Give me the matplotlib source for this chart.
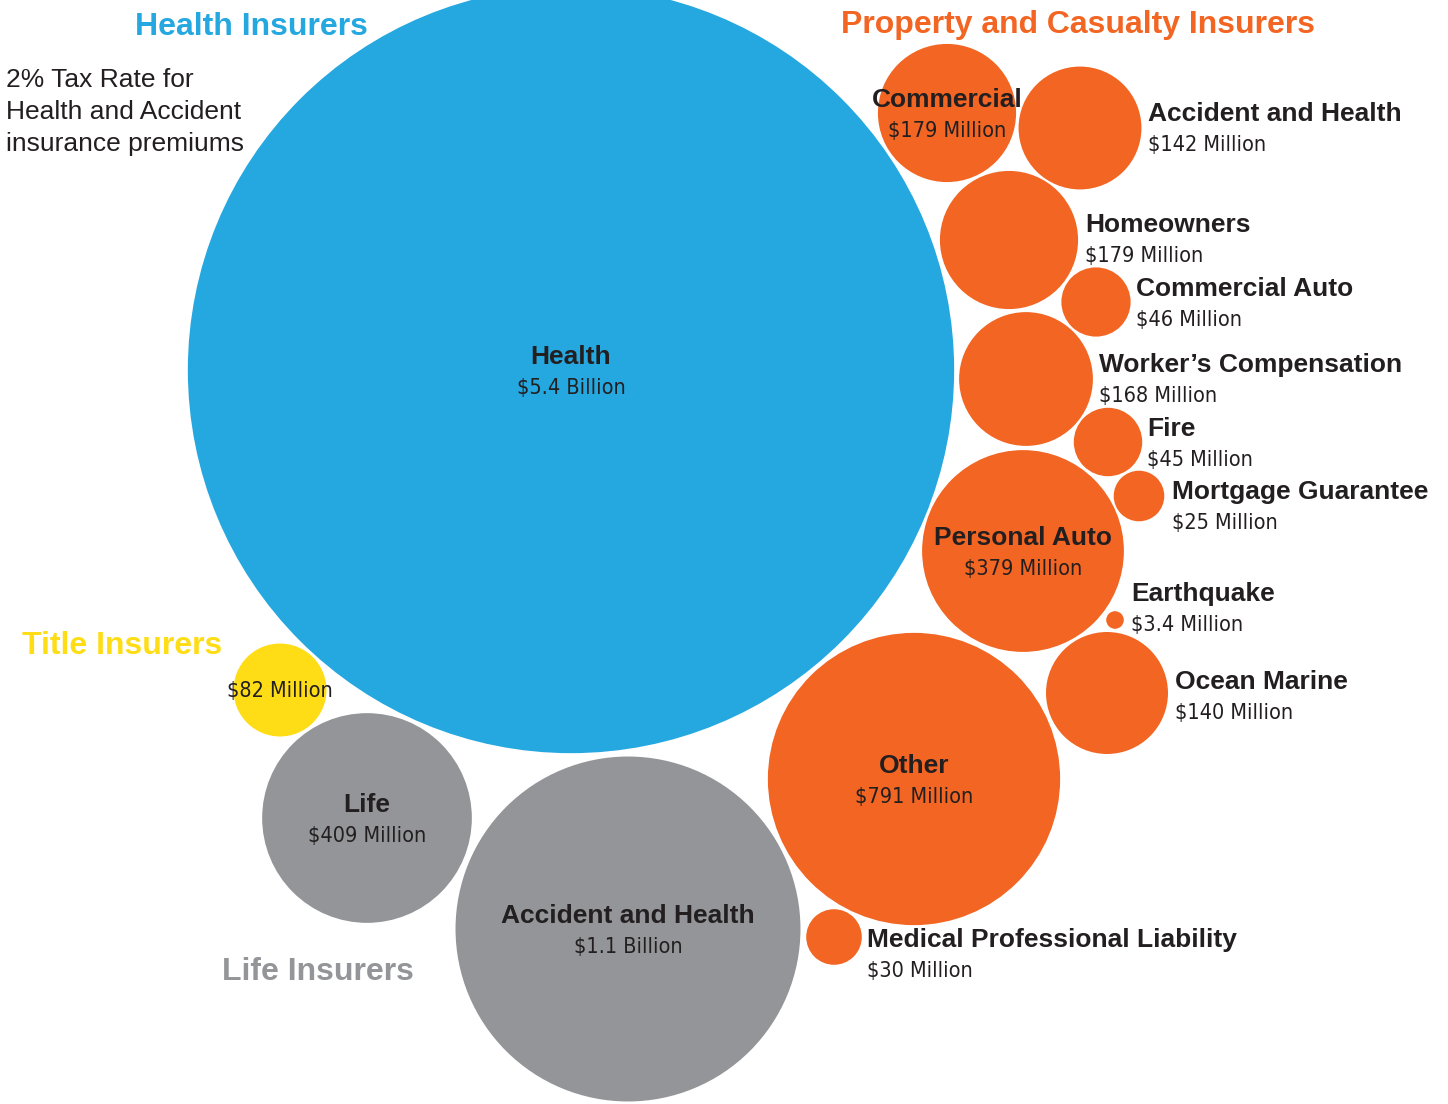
import numpy as np
import matplotlib.pyplot as plt
from matplotlib.patches import Circle
from matplotlib import font_manager

# premium tax revenue by line, in millions of dollars
names = ['Health', 'Title', 'Life', 'Accident and Health', 'Other',
         'Medical Professional Liability', 'Commercial', 'Accident and Health',
         'Homeowners', 'Commercial Auto', 'Worker\u2019s Compensation', 'Fire',
         'Mortgage Guarantee', 'Personal Auto', 'Earthquake', 'Ocean Marine']
values = [5400, 82, 409, 1100, 791, 30, 179, 142, 179, 46, 168, 45, 25, 379, 3.4, 140]
value_labels = ['$5.4 Billion', '$82 Million', '$409 Million', '$1.1 Billion',
                '$791 Million', '$30 Million', '$179 Million', '$142 Million',
                '$179 Million', '$46 Million', '$168 Million', '$45 Million',
                '$25 Million', '$379 Million', '$3.4 Million', '$140 Million']
groups = ['health', 'title', 'life', 'life', 'pc', 'pc', 'pc', 'pc',
          'pc', 'pc', 'pc', 'pc', 'pc', 'pc', 'pc', 'pc']

colors = {'health': '#25A8E0', 'title': '#FEDD17', 'life': '#939598', 'pc': '#F26522'}
group_titles = [('Health Insurers', 'health'), ('Property and Casualty Insurers', 'pc'),
                ('Title Insurers', 'title'), ('Life Insurers', 'life')]

# bubble centres (pixels) and label placement
centers = [(571, 370), (280, 690), (367, 818), (628, 929), (914, 779), (834, 937),
           (947, 113), (1080, 128), (1009, 240), (1096, 302), (1026, 379),
           (1108, 442), (1139, 496), (1023, 551), (1115, 620), (1107, 693)]
# None -> label centred inside bubble, else (x, y) of left-aligned label
label_pos = [None, None, None, None, None, (867, 938), None, (1148, 112),
             (1085, 223), (1136, 287), (1099, 363), (1147, 427), (1172, 490),
             None, (1131, 592), (1175, 680)]
title_pos = [(251, 24), (1078, 22), (122, 643), (318, 969)]

font = 'Liberation Sans'
dark = '#231F20'

# condensed face for the dollar amounts, if one is installed
value_font = dict(family=font, fontsize=16)
for f in font_manager.fontManager.ttflist:
    if f.name == 'DejaVu Sans' and f.stretch == 'condensed' and f.weight in (400, 'normal'):
        value_font = dict(family='DejaVu Sans', stretch='condensed', fontsize=15.5)
        break

scale = 384 / np.sqrt(5400)  # radius in px per sqrt($M)

fig = plt.figure(figsize=(14.48, 11.04), dpi=100)
ax = fig.add_axes([0, 0, 1, 1])
ax.set_xlim(0, 1448)
ax.set_ylim(1104, 0)
ax.set_aspect('equal')
ax.axis('off')

for i, v in enumerate(values):
    cx, cy = centers[i]
    r = scale * np.sqrt(v)
    ax.add_patch(Circle((cx, cy), r, facecolor=colors[groups[i]], edgecolor='white',
                        linewidth=1.2, zorder=2))

for i, v in enumerate(values):
    cx, cy = centers[i]
    if names[i] == 'Title':
        ax.text(cx, cy + 1, value_labels[i], ha='center', va='center',
                color=dark, zorder=5, **value_font)
        continue
    if label_pos[i] is None:
        x, y, ha = cx, cy - 15, 'center'
    else:
        x, y = label_pos[i]
        ha = 'left'
    ax.text(x, y + 2, names[i], ha=ha, va='center', fontsize=19, fontweight='bold',
            family=font, color=dark, zorder=5)
    ax.text(x, y + 33, value_labels[i], ha=ha, va='center',
            color=dark, zorder=5, **value_font)

for (title, g), (x, y) in zip(group_titles, title_pos):
    ax.text(x, y + 3, title, ha='center', va='center', fontsize=23, fontweight='bold',
            family=font, color=colors[g], zorder=5)

note = ['2% Tax Rate for', 'Health and Accident', 'insurance premiums']
for k, line in enumerate(note):
    ax.text(6, 80 + 32 * k, line, ha='left', va='center', fontsize=19,
            family=font, color=dark, zorder=5)

fig.savefig('out.png', dpi=100, facecolor='white')
